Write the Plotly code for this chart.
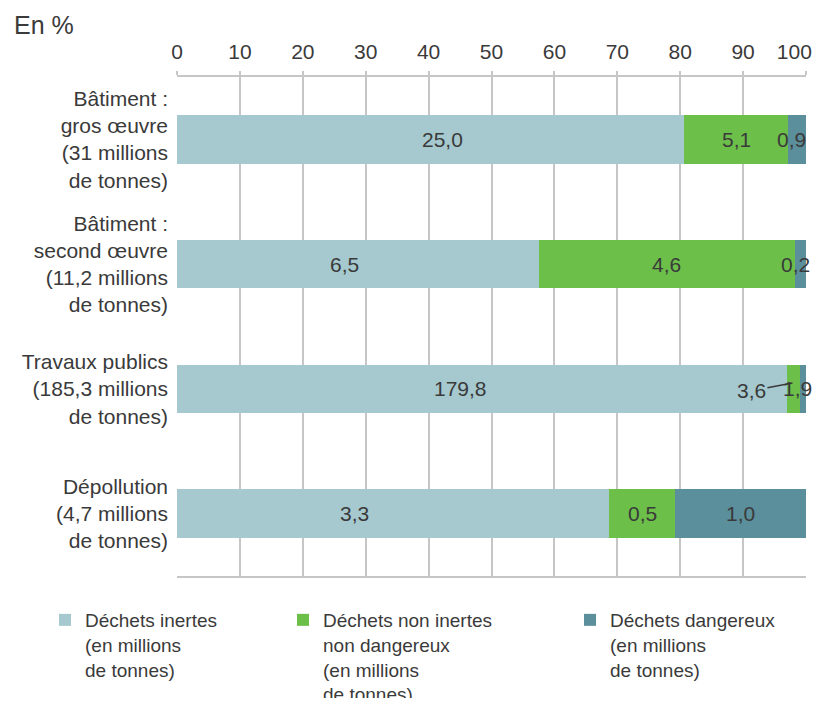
import plotly.graph_objects as go

# ---- data ----
categories = [
    "Bâtiment :<br>gros œuvre<br>(31 millions<br>de tonnes)",
    "Bâtiment :<br>second œuvre<br>(11,2 millions<br>de tonnes)",
    "Travaux publics<br>(185,3 millions<br>de tonnes)",
    "Dépollution<br>(4,7 millions<br>de tonnes)",
]
series_names = [
    "Déchets inertes<br>(en millions<br>de tonnes)",
    "Déchets non inertes<br>non dangereux<br>(en millions<br>de tonnes)",
    "Déchets dangereux<br>(en millions<br>de tonnes)",
]
inertes = [25.0, 6.5, 179.8, 3.3]
non_inertes = [5.1, 4.6, 3.6, 0.5]
dangereux = [0.9, 0.2, 1.9, 1.0]
x_ticks = [0, 10, 20, 30, 40, 50, 60, 70, 80, 90, 100]

# ---- style ----
colors = ["#A5C9CF", "#6CC04A", "#5B8F9B"]
text_color = "#3a3a3a"
grid_color = "#c6c6c6"
FONT = "Liberation Sans, Arial, Helvetica, sans-serif"

# page body has an 8px default margin: figure is sized to fit the 821x706 window
OFF = 8
W, H = 805, 690

series = [inertes, non_inertes, dangereux]
totals = [sum(v) for v in zip(*series)]
pcts = [[v / t * 100 for v, t in zip(s, totals)] for s in series]

legend_ids = ["legend", "legend2", "legend3"]
legend_left = [37, 275, 562]   # container px of each legend box

fig = go.Figure()
for name, pc, col, lid in zip(series_names, pcts, colors, legend_ids):
    fig.add_trace(go.Bar(
        y=categories, x=pc, name=name, orientation="h",
        marker=dict(color=col, line=dict(width=0)),
        hoverinfo="skip", legend=lid,
    ))

def fmt(v):
    return f"{v:.1f}".replace(".", ",")

# value labels
label_shift = {(0, 0): 12, (1, 0): -13, (2, 0): -22, (3, 0): -39}
for si, (s, pc) in enumerate(zip(series, pcts)):
    for ci, cat in enumerate(categories):
        start = sum(pcts[k][ci] for k in range(si))
        center = start + pc[ci] / 2
        if si == 1 and ci == 2:
            # small segment with leader line
            fig.add_annotation(
                x=center, y=cat, text=fmt(s[ci]), showarrow=True,
                arrowhead=0, arrowwidth=1.6, arrowcolor=text_color,
                ax=-42, ay=8, yshift=6, standoff=1,
                font=dict(size=21, color=text_color, family=FONT),
            )
            continue
        shift = label_shift.get((ci, si), 0)
        if pc[ci] < 5:
            shift = -5
        fig.add_annotation(
            x=center, y=cat, text=fmt(s[ci]), showarrow=False,
            xshift=shift, font=dict(size=21, color=text_color, family=FONT),
        )

plot_l, plot_r, plot_t, plot_b = 177, 806, 77, 576
fig.add_annotation(
    xref="paper", yref="paper",
    x=(12 - plot_l) / (plot_r - plot_l), y=1 + (plot_t - 25) / (plot_b - plot_t),
    xanchor="left", yanchor="middle",
    text="En %", showarrow=False, font=dict(size=25, color=text_color, family=FONT),
)

# last tick label nudged left (as in the original) with trailing no-break spaces
tick_text = [str(v) for v in x_ticks]
tick_text[-1] = tick_text[-1] + "\u00a0\u00a0\u00a0\u00a0"

legend_common = dict(
    orientation="h", xref="container", yref="container",
    y=1 - 593 / H, xanchor="left", yanchor="top", valign="top",
    bgcolor="rgba(0,0,0,0)",
    font=dict(size=19, color=text_color, family=FONT),
)

fig.update_layout(
    width=W, height=H,
    margin=dict(l=plot_l - OFF, r=OFF + W - plot_r, t=plot_t - OFF, b=OFF + H - plot_b),
    paper_bgcolor="white", plot_bgcolor="white",
    barmode="stack", bargap=0.61,
    font=dict(family=FONT, color=text_color, size=20),
    xaxis=dict(
        range=[0, 100], side="top", tickvals=x_ticks, ticktext=tick_text,
        showgrid=True, gridcolor=grid_color, gridwidth=2,
        showline=True, linecolor=grid_color, linewidth=2, mirror=True,
        zeroline=False, ticks="outside", ticklen=4, tickwidth=2, tickcolor=grid_color,
        tickfont=dict(size=21, color=text_color, family=FONT),
        ticklabelstandoff=4, ticklabeloverflow="allow",
        fixedrange=True, automargin=False,
    ),
    yaxis=dict(
        autorange="reversed", showgrid=False, showline=False, zeroline=False,
        ticks="", ticklabelstandoff=8,
        tickfont=dict(size=21, color=text_color, family=FONT),
        fixedrange=True, automargin=False,
    ),
    legend=dict(x=legend_left[0] / W, **legend_common),
    legend2=dict(x=legend_left[1] / W, **legend_common),
    legend3=dict(x=legend_left[2] / W, **legend_common),
    showlegend=True,
)

fig.write_html("out.html")
